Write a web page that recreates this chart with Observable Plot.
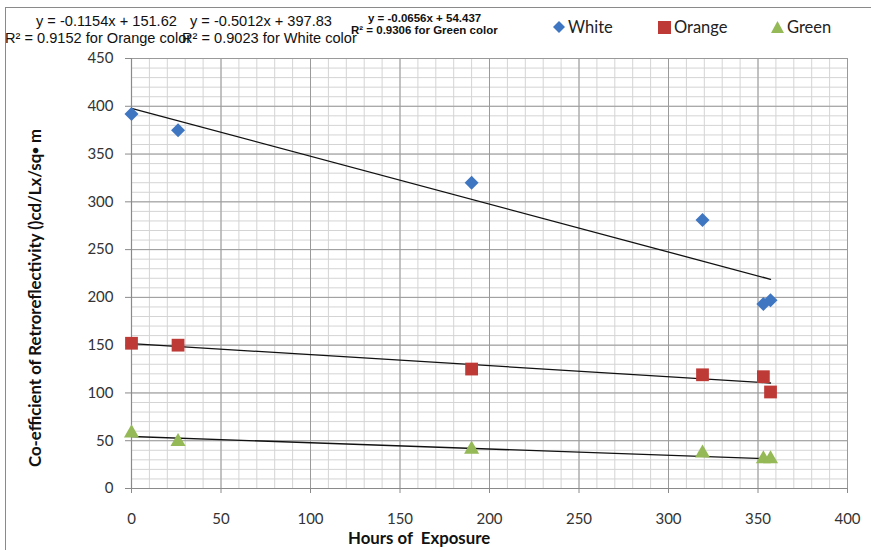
<!DOCTYPE html>
<html>
<head>
<meta charset="utf-8">
<script src="https://cdn.jsdelivr.net/npm/d3@7"></script>
<script src="https://cdn.jsdelivr.net/npm/@observablehq/plot@0.6"></script>
<style>
  html, body { margin: 0; padding: 0; background: #fff; }
  #wrap { position: relative; width: 871px; height: 550px; overflow: hidden; }
  .ann { position: absolute; white-space: pre; font-family: "Liberation Sans", Arial, sans-serif; font-size: 14.6px; color: #111; line-height: 1; }
  .gann { position: absolute; white-space: pre; font-family: "Liberation Sans Narrow", "Liberation Sans", Arial, sans-serif; font-weight: bold; font-size: 11.5px; color: #111; line-height: 1; }
  .leg { position: absolute; font-family: Lato, "Open Sans", sans-serif; font-size: 16.5px; color: #222; line-height: 1; display: flex; align-items: center; }
  .leg svg { margin-right: 3px; }
  .title { position: absolute; font-family: Lato, "Open Sans", sans-serif; font-weight: bold; font-size: 16.8px; color: #111; white-space: pre; line-height: 1; }
  #borderTop { position: absolute; left: 5px; top: 7px; width: 866px; height: 0; border-top: 1.5px solid #8a8a8a; }
  #borderLeft { position: absolute; left: 5px; top: 7px; width: 0; height: 543px; border-left: 1.5px solid #8a8a8a; }
</style>
</head>
<body>
<div id="wrap"></div>
<script>
// ---- data ----
const hours  = [0, 26, 190, 319, 353, 357];
const white  = [392, 375, 320, 281, 193, 197];
const orange = [152, 150, 125, 119, 117, 101];
const green  = [58, 49, 41, 37, 31, 31];

const seriesNames = ["White", "Orange", "Green"];
const seriesColors = ["#3f76c2", "#be3a37", "#94b956"];
const trendSlopes = [-0.5012, -0.1154, -0.0656];
const trendIntercepts = [397.83, 151.62, 54.437];
const trendEnd = 357;

const xTicks = [0, 50, 100, 150, 200, 250, 300, 350, 400];
const yTicks = [0, 50, 100, 150, 200, 250, 300, 350, 400, 450];
const xMinor = d3.range(0, 401, 10);
const yMinor = d3.range(0, 451, 10);

const rows = (ys) => hours.map((h, i) => ({x: h, y: ys[i]}));
const trends = seriesNames.map((s, i) => [
  {x: 0, y: trendIntercepts[i]},
  {x: trendEnd, y: trendIntercepts[i] + trendSlopes[i] * trendEnd}
]);

const chart = Plot.plot({
  width: 871,
  height: 550,
  marginLeft: 131,
  marginRight: 24,
  marginTop: 58,
  marginBottom: 62,
  style: {fontFamily: "Lato, 'Open Sans', sans-serif", fontSize: "15px", color: "#333", background: "transparent"},
  x: {domain: [0, 400], ticks: xTicks, tickSize: 5, tickPadding: 20, label: null},
  y: {domain: [0, 450], ticks: yTicks, tickSize: 6, tickPadding: 12, label: null},
  marks: [
    Plot.ruleX(xMinor, {stroke: "#d4d4d4", strokeWidth: 1}),
    Plot.ruleY(yMinor, {stroke: "#d4d4d4", strokeWidth: 1}),
    Plot.ruleX(xTicks, {stroke: "#9a9a9a", strokeWidth: 1}),
    Plot.ruleY(yTicks, {stroke: "#9a9a9a", strokeWidth: 1}),
    Plot.axisX({ticks: xTicks, tickSize: 5, tickPadding: 20, stroke: "#8a8a8a", color: "#333"}),
    Plot.axisY({ticks: yTicks, tickSize: 6, tickPadding: 12, stroke: "#8a8a8a", color: "#333"}),
    Plot.ruleX([0], {stroke: "#8a8a8a", strokeWidth: 1.2}),
    Plot.ruleY([0], {stroke: "#8a8a8a", strokeWidth: 1.2}),
    ...trends.map(t => Plot.line(t, {x: "x", y: "y", stroke: "#111", strokeWidth: 1.3})),
    Plot.dot(rows(white), {x: "x", y: "y", symbol: "diamond2", r: 6.3, fill: seriesColors[0], stroke: "none"}),
    Plot.dot(rows(orange), {x: "x", y: "y", symbol: "square", r: 7.2, fill: seriesColors[1], stroke: "none"}),
    Plot.dot(rows(green), {x: "x", y: "y", symbol: "triangle", r: 5.6, fill: seriesColors[2], stroke: "none"})
  ]
});

const wrap = document.getElementById("wrap");
chart.style.position = "absolute";
chart.style.left = "0px";
chart.style.top = "0px";
wrap.appendChild(chart);

function addDiv(cls, text, left, top, extra) {
  const d = document.createElement("div");
  d.className = cls;
  d.textContent = text;
  d.style.left = left + "px";
  d.style.top = top + "px";
  if (extra) Object.assign(d.style, extra);
  wrap.appendChild(d);
  return d;
}

const bt = document.createElement("div"); bt.id = "borderTop"; wrap.appendChild(bt);
const bl = document.createElement("div"); bl.id = "borderLeft"; wrap.appendChild(bl);

// regression annotations
const fmtEq = (m, b) => `y = ${m}x + ${b}`;
addDiv("ann", fmtEq(trendSlopes[1], trendIntercepts[1]), 36, 14);
addDiv("ann", "R² = 0.9152 for Orange color", 5, 31);
addDiv("ann", fmtEq(trendSlopes[0], trendIntercepts[0]), 190, 14);
addDiv("ann", "R² = 0.9023 for White color", 182, 31);
addDiv("gann", fmtEq(trendSlopes[2], trendIntercepts[2]), 368, 13);
addDiv("gann", "R² = 0.9306 for Green color", 351, 25);

// legend
const legSymbols = [
  '<svg width="12" height="12" viewBox="-6 -6 12 12"><path d="M0,-6L6,0L0,6L-6,0Z" fill="' + seriesColors[0] + '"/></svg>',
  '<svg width="13" height="13" viewBox="-6.5 -6.5 13 13"><rect x="-6.5" y="-6.5" width="13" height="13" fill="' + seriesColors[1] + '"/></svg>',
  '<svg width="13" height="12" viewBox="-6.5 -6 13 12"><path d="M0,-6L6.5,6L-6.5,6Z" fill="' + seriesColors[2] + '"/></svg>'
];
const legLeft = [553, 658, 771];
seriesNames.forEach((s, i) => {
  const d = document.createElement("div");
  d.className = "leg";
  d.style.left = legLeft[i] + "px";
  d.style.top = "19px";
  d.innerHTML = legSymbols[i] + "<span>" + s + "</span>";
  wrap.appendChild(d);
});

// axis titles
addDiv("title", "Hours of  Exposure", 348, 530);
const yt = document.createElement("div");
yt.className = "title";
yt.innerHTML = 'Co-efficient of Retroreflectivity ()cd/Lx/sq<span style="font-size:11px;vertical-align:2px">\u25CF</span> m';
wrap.appendChild(yt);
yt.style.left = "0px";
yt.style.top = "0px";
yt.style.transformOrigin = "0 0";
const w = yt.getBoundingClientRect().width;
yt.style.left = "27px";
yt.style.top = (298 + w / 2) + "px";
yt.style.transform = "rotate(-90deg)";
</script>
</body>
</html>
